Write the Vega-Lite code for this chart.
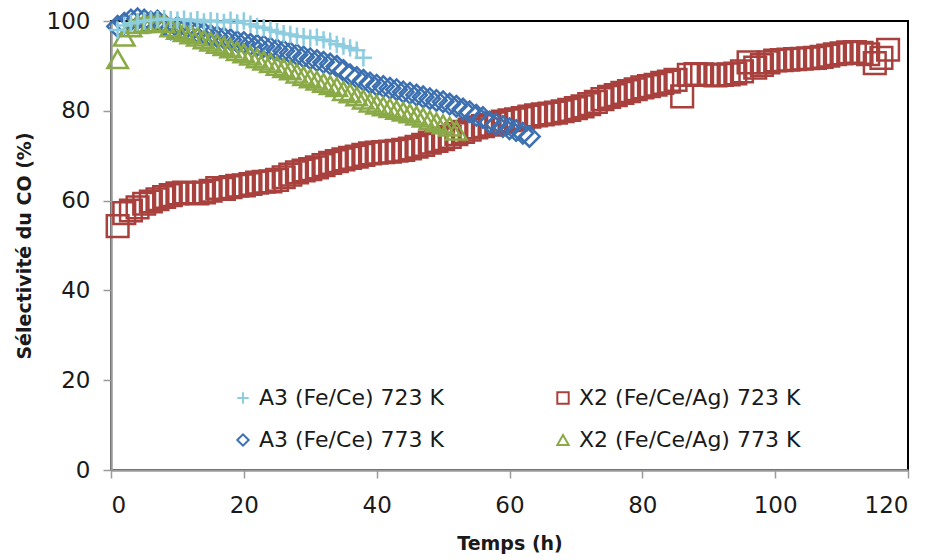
{
  "$schema": "https://vega.github.io/schema/vega-lite/v6.json",
  "width": 797,
  "height": 449,
  "autosize": "none",
  "padding": {"left": 111, "top": 21, "right": 22, "bottom": 90},
  "background": "white",
  "config": {
    "font": "DejaVu Sans",
    "view": {"stroke": "#000000", "strokeWidth": 2},
    "axis": {
      "labelFont": "DejaVu Sans",
      "labelFontSize": 23,
      "labelColor": "#1a1a1a",
      "titleFont": "DejaVu Sans",
      "titleFontSize": 19,
      "titleFontWeight": "bold",
      "titleColor": "#1a1a1a",
      "domainColor": "#9a9a9a",
      "domainWidth": 2.5,
      "tickColor": "#9a9a9a",
      "tickWidth": 1.5,
      "tickSize": 8,
      "grid": false
    },
    "legend": {
      "labelFont": "DejaVu Sans",
      "labelFontSize": 22,
      "labelColor": "#1a1a1a",
      "labelLimit": 0,
      "symbolSize": 130,
      "symbolStrokeWidth": 2,
      "labelOffset": 5,
      "rowPadding": 20,
      "columnPadding": 108,
      "padding": 0
    }
  },
  "data": {
    "values": [
      {"s": "X2 (Fe/Ce/Ag) 723 K", "t": 1, "v": 54.3},
      {"s": "X2 (Fe/Ce/Ag) 723 K", "t": 2, "v": 57.2},
      {"s": "X2 (Fe/Ce/Ag) 723 K", "t": 3, "v": 57.8},
      {"s": "X2 (Fe/Ce/Ag) 723 K", "t": 4, "v": 58.5},
      {"s": "X2 (Fe/Ce/Ag) 723 K", "t": 5, "v": 59.3},
      {"s": "X2 (Fe/Ce/Ag) 723 K", "t": 6, "v": 59.8},
      {"s": "X2 (Fe/Ce/Ag) 723 K", "t": 7, "v": 60.3},
      {"s": "X2 (Fe/Ce/Ag) 723 K", "t": 8, "v": 60.8},
      {"s": "X2 (Fe/Ce/Ag) 723 K", "t": 9, "v": 61.2},
      {"s": "X2 (Fe/Ce/Ag) 723 K", "t": 10, "v": 61.6},
      {"s": "X2 (Fe/Ce/Ag) 723 K", "t": 11, "v": 61.8},
      {"s": "X2 (Fe/Ce/Ag) 723 K", "t": 12, "v": 61.7},
      {"s": "X2 (Fe/Ce/Ag) 723 K", "t": 13, "v": 61.6},
      {"s": "X2 (Fe/Ce/Ag) 723 K", "t": 14, "v": 61.8},
      {"s": "X2 (Fe/Ce/Ag) 723 K", "t": 15, "v": 62.2},
      {"s": "X2 (Fe/Ce/Ag) 723 K", "t": 16, "v": 62.8},
      {"s": "X2 (Fe/Ce/Ag) 723 K", "t": 17, "v": 62.6},
      {"s": "X2 (Fe/Ce/Ag) 723 K", "t": 18, "v": 63.0},
      {"s": "X2 (Fe/Ce/Ag) 723 K", "t": 19, "v": 63.3},
      {"s": "X2 (Fe/Ce/Ag) 723 K", "t": 20, "v": 63.4},
      {"s": "X2 (Fe/Ce/Ag) 723 K", "t": 21, "v": 63.7},
      {"s": "X2 (Fe/Ce/Ag) 723 K", "t": 22, "v": 64.0},
      {"s": "X2 (Fe/Ce/Ag) 723 K", "t": 23, "v": 64.2},
      {"s": "X2 (Fe/Ce/Ag) 723 K", "t": 24, "v": 64.3},
      {"s": "X2 (Fe/Ce/Ag) 723 K", "t": 25, "v": 64.6},
      {"s": "X2 (Fe/Ce/Ag) 723 K", "t": 26, "v": 65.2},
      {"s": "X2 (Fe/Ce/Ag) 723 K", "t": 27, "v": 65.8},
      {"s": "X2 (Fe/Ce/Ag) 723 K", "t": 28, "v": 66.3},
      {"s": "X2 (Fe/Ce/Ag) 723 K", "t": 29, "v": 66.7},
      {"s": "X2 (Fe/Ce/Ag) 723 K", "t": 30, "v": 67.0},
      {"s": "X2 (Fe/Ce/Ag) 723 K", "t": 31, "v": 67.4},
      {"s": "X2 (Fe/Ce/Ag) 723 K", "t": 32, "v": 67.9},
      {"s": "X2 (Fe/Ce/Ag) 723 K", "t": 33, "v": 68.4},
      {"s": "X2 (Fe/Ce/Ag) 723 K", "t": 34, "v": 68.8},
      {"s": "X2 (Fe/Ce/Ag) 723 K", "t": 35, "v": 69.2},
      {"s": "X2 (Fe/Ce/Ag) 723 K", "t": 36, "v": 69.5},
      {"s": "X2 (Fe/Ce/Ag) 723 K", "t": 37, "v": 69.8},
      {"s": "X2 (Fe/Ce/Ag) 723 K", "t": 38, "v": 70.2},
      {"s": "X2 (Fe/Ce/Ag) 723 K", "t": 39, "v": 70.5},
      {"s": "X2 (Fe/Ce/Ag) 723 K", "t": 40, "v": 70.7},
      {"s": "X2 (Fe/Ce/Ag) 723 K", "t": 41, "v": 70.8},
      {"s": "X2 (Fe/Ce/Ag) 723 K", "t": 42, "v": 70.9},
      {"s": "X2 (Fe/Ce/Ag) 723 K", "t": 43, "v": 71.1},
      {"s": "X2 (Fe/Ce/Ag) 723 K", "t": 44, "v": 71.3},
      {"s": "X2 (Fe/Ce/Ag) 723 K", "t": 45, "v": 71.6},
      {"s": "X2 (Fe/Ce/Ag) 723 K", "t": 46, "v": 72.0},
      {"s": "X2 (Fe/Ce/Ag) 723 K", "t": 47, "v": 72.4},
      {"s": "X2 (Fe/Ce/Ag) 723 K", "t": 48, "v": 72.9},
      {"s": "X2 (Fe/Ce/Ag) 723 K", "t": 49, "v": 73.3},
      {"s": "X2 (Fe/Ce/Ag) 723 K", "t": 50, "v": 73.7},
      {"s": "X2 (Fe/Ce/Ag) 723 K", "t": 51, "v": 74.2},
      {"s": "X2 (Fe/Ce/Ag) 723 K", "t": 52, "v": 74.8},
      {"s": "X2 (Fe/Ce/Ag) 723 K", "t": 53, "v": 75.3},
      {"s": "X2 (Fe/Ce/Ag) 723 K", "t": 54, "v": 75.8},
      {"s": "X2 (Fe/Ce/Ag) 723 K", "t": 55, "v": 76.3},
      {"s": "X2 (Fe/Ce/Ag) 723 K", "t": 56, "v": 76.6},
      {"s": "X2 (Fe/Ce/Ag) 723 K", "t": 57, "v": 76.9},
      {"s": "X2 (Fe/Ce/Ag) 723 K", "t": 58, "v": 77.2},
      {"s": "X2 (Fe/Ce/Ag) 723 K", "t": 59, "v": 77.6},
      {"s": "X2 (Fe/Ce/Ag) 723 K", "t": 60, "v": 77.9},
      {"s": "X2 (Fe/Ce/Ag) 723 K", "t": 61, "v": 78.1},
      {"s": "X2 (Fe/Ce/Ag) 723 K", "t": 62, "v": 78.4},
      {"s": "X2 (Fe/Ce/Ag) 723 K", "t": 63, "v": 78.7},
      {"s": "X2 (Fe/Ce/Ag) 723 K", "t": 64, "v": 79.0},
      {"s": "X2 (Fe/Ce/Ag) 723 K", "t": 65, "v": 79.2},
      {"s": "X2 (Fe/Ce/Ag) 723 K", "t": 66, "v": 79.4},
      {"s": "X2 (Fe/Ce/Ag) 723 K", "t": 67, "v": 79.6},
      {"s": "X2 (Fe/Ce/Ag) 723 K", "t": 68, "v": 79.9},
      {"s": "X2 (Fe/Ce/Ag) 723 K", "t": 69, "v": 80.2},
      {"s": "X2 (Fe/Ce/Ag) 723 K", "t": 70, "v": 80.6},
      {"s": "X2 (Fe/Ce/Ag) 723 K", "t": 71, "v": 81.0},
      {"s": "X2 (Fe/Ce/Ag) 723 K", "t": 72, "v": 81.5},
      {"s": "X2 (Fe/Ce/Ag) 723 K", "t": 73, "v": 82.0},
      {"s": "X2 (Fe/Ce/Ag) 723 K", "t": 74, "v": 82.6},
      {"s": "X2 (Fe/Ce/Ag) 723 K", "t": 75, "v": 83.1},
      {"s": "X2 (Fe/Ce/Ag) 723 K", "t": 76, "v": 83.5},
      {"s": "X2 (Fe/Ce/Ag) 723 K", "t": 77, "v": 84.0},
      {"s": "X2 (Fe/Ce/Ag) 723 K", "t": 78, "v": 84.4},
      {"s": "X2 (Fe/Ce/Ag) 723 K", "t": 79, "v": 84.8},
      {"s": "X2 (Fe/Ce/Ag) 723 K", "t": 80, "v": 85.2},
      {"s": "X2 (Fe/Ce/Ag) 723 K", "t": 81, "v": 85.5},
      {"s": "X2 (Fe/Ce/Ag) 723 K", "t": 82, "v": 85.8},
      {"s": "X2 (Fe/Ce/Ag) 723 K", "t": 83, "v": 86.2},
      {"s": "X2 (Fe/Ce/Ag) 723 K", "t": 84, "v": 86.5},
      {"s": "X2 (Fe/Ce/Ag) 723 K", "t": 85, "v": 86.9},
      {"s": "X2 (Fe/Ce/Ag) 723 K", "t": 86, "v": 83.2},
      {"s": "X2 (Fe/Ce/Ag) 723 K", "t": 87, "v": 88.0},
      {"s": "X2 (Fe/Ce/Ag) 723 K", "t": 88, "v": 88.2},
      {"s": "X2 (Fe/Ce/Ag) 723 K", "t": 89, "v": 88.1},
      {"s": "X2 (Fe/Ce/Ag) 723 K", "t": 90, "v": 88.0},
      {"s": "X2 (Fe/Ce/Ag) 723 K", "t": 91, "v": 87.9},
      {"s": "X2 (Fe/Ce/Ag) 723 K", "t": 92, "v": 88.0},
      {"s": "X2 (Fe/Ce/Ag) 723 K", "t": 93, "v": 88.1},
      {"s": "X2 (Fe/Ce/Ag) 723 K", "t": 94, "v": 88.3},
      {"s": "X2 (Fe/Ce/Ag) 723 K", "t": 95, "v": 88.8},
      {"s": "X2 (Fe/Ce/Ag) 723 K", "t": 96, "v": 90.8},
      {"s": "X2 (Fe/Ce/Ag) 723 K", "t": 97, "v": 89.6},
      {"s": "X2 (Fe/Ce/Ag) 723 K", "t": 98, "v": 90.2},
      {"s": "X2 (Fe/Ce/Ag) 723 K", "t": 99, "v": 90.8},
      {"s": "X2 (Fe/Ce/Ag) 723 K", "t": 100, "v": 91.2},
      {"s": "X2 (Fe/Ce/Ag) 723 K", "t": 101, "v": 91.3},
      {"s": "X2 (Fe/Ce/Ag) 723 K", "t": 102, "v": 91.4},
      {"s": "X2 (Fe/Ce/Ag) 723 K", "t": 103, "v": 91.5},
      {"s": "X2 (Fe/Ce/Ag) 723 K", "t": 104, "v": 91.6},
      {"s": "X2 (Fe/Ce/Ag) 723 K", "t": 105, "v": 91.7},
      {"s": "X2 (Fe/Ce/Ag) 723 K", "t": 106, "v": 91.8},
      {"s": "X2 (Fe/Ce/Ag) 723 K", "t": 107, "v": 92.0},
      {"s": "X2 (Fe/Ce/Ag) 723 K", "t": 108, "v": 92.3},
      {"s": "X2 (Fe/Ce/Ag) 723 K", "t": 109, "v": 92.6},
      {"s": "X2 (Fe/Ce/Ag) 723 K", "t": 110, "v": 92.8},
      {"s": "X2 (Fe/Ce/Ag) 723 K", "t": 111, "v": 93.0},
      {"s": "X2 (Fe/Ce/Ag) 723 K", "t": 112, "v": 93.1},
      {"s": "X2 (Fe/Ce/Ag) 723 K", "t": 113, "v": 92.9},
      {"s": "X2 (Fe/Ce/Ag) 723 K", "t": 114, "v": 92.6},
      {"s": "X2 (Fe/Ce/Ag) 723 K", "t": 115, "v": 90.6},
      {"s": "X2 (Fe/Ce/Ag) 723 K", "t": 116, "v": 91.8},
      {"s": "X2 (Fe/Ce/Ag) 723 K", "t": 117, "v": 93.6},
      {"s": "A3 (Fe/Ce) 773 K", "t": 1, "v": 98.8},
      {"s": "A3 (Fe/Ce) 773 K", "t": 2, "v": 99.5},
      {"s": "A3 (Fe/Ce) 773 K", "t": 3, "v": 100.2},
      {"s": "A3 (Fe/Ce) 773 K", "t": 4, "v": 100.5},
      {"s": "A3 (Fe/Ce) 773 K", "t": 5, "v": 100.2},
      {"s": "A3 (Fe/Ce) 773 K", "t": 6, "v": 99.8},
      {"s": "A3 (Fe/Ce) 773 K", "t": 7, "v": 100.0},
      {"s": "A3 (Fe/Ce) 773 K", "t": 8, "v": 99.2},
      {"s": "A3 (Fe/Ce) 773 K", "t": 9, "v": 98.2},
      {"s": "A3 (Fe/Ce) 773 K", "t": 10, "v": 98.6},
      {"s": "A3 (Fe/Ce) 773 K", "t": 11, "v": 98.0},
      {"s": "A3 (Fe/Ce) 773 K", "t": 12, "v": 97.8},
      {"s": "A3 (Fe/Ce) 773 K", "t": 13, "v": 97.5},
      {"s": "A3 (Fe/Ce) 773 K", "t": 14, "v": 97.3},
      {"s": "A3 (Fe/Ce) 773 K", "t": 15, "v": 96.8},
      {"s": "A3 (Fe/Ce) 773 K", "t": 16, "v": 96.5},
      {"s": "A3 (Fe/Ce) 773 K", "t": 17, "v": 96.2},
      {"s": "A3 (Fe/Ce) 773 K", "t": 18, "v": 95.8},
      {"s": "A3 (Fe/Ce) 773 K", "t": 19, "v": 95.4},
      {"s": "A3 (Fe/Ce) 773 K", "t": 20, "v": 95.2},
      {"s": "A3 (Fe/Ce) 773 K", "t": 21, "v": 94.8},
      {"s": "A3 (Fe/Ce) 773 K", "t": 22, "v": 94.6},
      {"s": "A3 (Fe/Ce) 773 K", "t": 23, "v": 94.4},
      {"s": "A3 (Fe/Ce) 773 K", "t": 24, "v": 94.0},
      {"s": "A3 (Fe/Ce) 773 K", "t": 25, "v": 93.6},
      {"s": "A3 (Fe/Ce) 773 K", "t": 26, "v": 93.3},
      {"s": "A3 (Fe/Ce) 773 K", "t": 27, "v": 92.9},
      {"s": "A3 (Fe/Ce) 773 K", "t": 28, "v": 92.5},
      {"s": "A3 (Fe/Ce) 773 K", "t": 29, "v": 92.0},
      {"s": "A3 (Fe/Ce) 773 K", "t": 30, "v": 91.6},
      {"s": "A3 (Fe/Ce) 773 K", "t": 31, "v": 91.2},
      {"s": "A3 (Fe/Ce) 773 K", "t": 32, "v": 90.8},
      {"s": "A3 (Fe/Ce) 773 K", "t": 33, "v": 90.4},
      {"s": "A3 (Fe/Ce) 773 K", "t": 34, "v": 89.9},
      {"s": "A3 (Fe/Ce) 773 K", "t": 35, "v": 89.0},
      {"s": "A3 (Fe/Ce) 773 K", "t": 36, "v": 88.0},
      {"s": "A3 (Fe/Ce) 773 K", "t": 37, "v": 87.4},
      {"s": "A3 (Fe/Ce) 773 K", "t": 38, "v": 86.8},
      {"s": "A3 (Fe/Ce) 773 K", "t": 39, "v": 86.2},
      {"s": "A3 (Fe/Ce) 773 K", "t": 40, "v": 85.7},
      {"s": "A3 (Fe/Ce) 773 K", "t": 41, "v": 85.4},
      {"s": "A3 (Fe/Ce) 773 K", "t": 42, "v": 85.0},
      {"s": "A3 (Fe/Ce) 773 K", "t": 43, "v": 84.7},
      {"s": "A3 (Fe/Ce) 773 K", "t": 44, "v": 84.2},
      {"s": "A3 (Fe/Ce) 773 K", "t": 45, "v": 83.9},
      {"s": "A3 (Fe/Ce) 773 K", "t": 46, "v": 83.5},
      {"s": "A3 (Fe/Ce) 773 K", "t": 47, "v": 83.1},
      {"s": "A3 (Fe/Ce) 773 K", "t": 48, "v": 82.7},
      {"s": "A3 (Fe/Ce) 773 K", "t": 49, "v": 82.3},
      {"s": "A3 (Fe/Ce) 773 K", "t": 50, "v": 82.0},
      {"s": "A3 (Fe/Ce) 773 K", "t": 51, "v": 81.5},
      {"s": "A3 (Fe/Ce) 773 K", "t": 52, "v": 81.0},
      {"s": "A3 (Fe/Ce) 773 K", "t": 53, "v": 80.4},
      {"s": "A3 (Fe/Ce) 773 K", "t": 54, "v": 79.8},
      {"s": "A3 (Fe/Ce) 773 K", "t": 55, "v": 79.0},
      {"s": "A3 (Fe/Ce) 773 K", "t": 56, "v": 78.5},
      {"s": "A3 (Fe/Ce) 773 K", "t": 57, "v": 77.5},
      {"s": "A3 (Fe/Ce) 773 K", "t": 58, "v": 77.0},
      {"s": "A3 (Fe/Ce) 773 K", "t": 59, "v": 76.5},
      {"s": "A3 (Fe/Ce) 773 K", "t": 60, "v": 76.0},
      {"s": "A3 (Fe/Ce) 773 K", "t": 61, "v": 75.6},
      {"s": "A3 (Fe/Ce) 773 K", "t": 62, "v": 75.0},
      {"s": "A3 (Fe/Ce) 773 K", "t": 63, "v": 74.3},
      {"s": "X2 (Fe/Ce/Ag) 773 K", "t": 1, "v": 91.5},
      {"s": "X2 (Fe/Ce/Ag) 773 K", "t": 2, "v": 96.5},
      {"s": "X2 (Fe/Ce/Ag) 773 K", "t": 3, "v": 98.6},
      {"s": "X2 (Fe/Ce/Ag) 773 K", "t": 4, "v": 99.3},
      {"s": "X2 (Fe/Ce/Ag) 773 K", "t": 5, "v": 99.5},
      {"s": "X2 (Fe/Ce/Ag) 773 K", "t": 6, "v": 99.6},
      {"s": "X2 (Fe/Ce/Ag) 773 K", "t": 7, "v": 99.7},
      {"s": "X2 (Fe/Ce/Ag) 773 K", "t": 8, "v": 99.5},
      {"s": "X2 (Fe/Ce/Ag) 773 K", "t": 9, "v": 98.6},
      {"s": "X2 (Fe/Ce/Ag) 773 K", "t": 10, "v": 98.0},
      {"s": "X2 (Fe/Ce/Ag) 773 K", "t": 11, "v": 97.5},
      {"s": "X2 (Fe/Ce/Ag) 773 K", "t": 12, "v": 97.0},
      {"s": "X2 (Fe/Ce/Ag) 773 K", "t": 13, "v": 96.5},
      {"s": "X2 (Fe/Ce/Ag) 773 K", "t": 14, "v": 95.9},
      {"s": "X2 (Fe/Ce/Ag) 773 K", "t": 15, "v": 95.4},
      {"s": "X2 (Fe/Ce/Ag) 773 K", "t": 16, "v": 94.9},
      {"s": "X2 (Fe/Ce/Ag) 773 K", "t": 17, "v": 94.4},
      {"s": "X2 (Fe/Ce/Ag) 773 K", "t": 18, "v": 93.9},
      {"s": "X2 (Fe/Ce/Ag) 773 K", "t": 19, "v": 93.3},
      {"s": "X2 (Fe/Ce/Ag) 773 K", "t": 20, "v": 92.8},
      {"s": "X2 (Fe/Ce/Ag) 773 K", "t": 21, "v": 92.3},
      {"s": "X2 (Fe/Ce/Ag) 773 K", "t": 22, "v": 91.7},
      {"s": "X2 (Fe/Ce/Ag) 773 K", "t": 23, "v": 91.2},
      {"s": "X2 (Fe/Ce/Ag) 773 K", "t": 24, "v": 90.6},
      {"s": "X2 (Fe/Ce/Ag) 773 K", "t": 25, "v": 90.0},
      {"s": "X2 (Fe/Ce/Ag) 773 K", "t": 26, "v": 89.5},
      {"s": "X2 (Fe/Ce/Ag) 773 K", "t": 27, "v": 89.0},
      {"s": "X2 (Fe/Ce/Ag) 773 K", "t": 28, "v": 88.3},
      {"s": "X2 (Fe/Ce/Ag) 773 K", "t": 29, "v": 87.7},
      {"s": "X2 (Fe/Ce/Ag) 773 K", "t": 30, "v": 87.2},
      {"s": "X2 (Fe/Ce/Ag) 773 K", "t": 31, "v": 86.7},
      {"s": "X2 (Fe/Ce/Ag) 773 K", "t": 32, "v": 86.2},
      {"s": "X2 (Fe/Ce/Ag) 773 K", "t": 33, "v": 85.7},
      {"s": "X2 (Fe/Ce/Ag) 773 K", "t": 34, "v": 85.3},
      {"s": "X2 (Fe/Ce/Ag) 773 K", "t": 35, "v": 84.4},
      {"s": "X2 (Fe/Ce/Ag) 773 K", "t": 36, "v": 83.9},
      {"s": "X2 (Fe/Ce/Ag) 773 K", "t": 37, "v": 83.2},
      {"s": "X2 (Fe/Ce/Ag) 773 K", "t": 38, "v": 82.5},
      {"s": "X2 (Fe/Ce/Ag) 773 K", "t": 39, "v": 81.8},
      {"s": "X2 (Fe/Ce/Ag) 773 K", "t": 40, "v": 81.4},
      {"s": "X2 (Fe/Ce/Ag) 773 K", "t": 41, "v": 81.0},
      {"s": "X2 (Fe/Ce/Ag) 773 K", "t": 42, "v": 80.6},
      {"s": "X2 (Fe/Ce/Ag) 773 K", "t": 43, "v": 80.2},
      {"s": "X2 (Fe/Ce/Ag) 773 K", "t": 44, "v": 79.8},
      {"s": "X2 (Fe/Ce/Ag) 773 K", "t": 45, "v": 79.4},
      {"s": "X2 (Fe/Ce/Ag) 773 K", "t": 46, "v": 78.9},
      {"s": "X2 (Fe/Ce/Ag) 773 K", "t": 47, "v": 78.5},
      {"s": "X2 (Fe/Ce/Ag) 773 K", "t": 48, "v": 77.9},
      {"s": "X2 (Fe/Ce/Ag) 773 K", "t": 49, "v": 77.4},
      {"s": "X2 (Fe/Ce/Ag) 773 K", "t": 50, "v": 77.0},
      {"s": "X2 (Fe/Ce/Ag) 773 K", "t": 51, "v": 76.5},
      {"s": "X2 (Fe/Ce/Ag) 773 K", "t": 52, "v": 75.6},
      {"s": "A3 (Fe/Ce) 723 K", "t": 1, "v": 98.0},
      {"s": "A3 (Fe/Ce) 723 K", "t": 2, "v": 99.0},
      {"s": "A3 (Fe/Ce) 723 K", "t": 3, "v": 99.5},
      {"s": "A3 (Fe/Ce) 723 K", "t": 4, "v": 99.8},
      {"s": "A3 (Fe/Ce) 723 K", "t": 5, "v": 100.0},
      {"s": "A3 (Fe/Ce) 723 K", "t": 6, "v": 100.2},
      {"s": "A3 (Fe/Ce) 723 K", "t": 7, "v": 100.3},
      {"s": "A3 (Fe/Ce) 723 K", "t": 8, "v": 100.5},
      {"s": "A3 (Fe/Ce) 723 K", "t": 9, "v": 100.3},
      {"s": "A3 (Fe/Ce) 723 K", "t": 10, "v": 100.2},
      {"s": "A3 (Fe/Ce) 723 K", "t": 11, "v": 100.4},
      {"s": "A3 (Fe/Ce) 723 K", "t": 12, "v": 100.0},
      {"s": "A3 (Fe/Ce) 723 K", "t": 13, "v": 100.3},
      {"s": "A3 (Fe/Ce) 723 K", "t": 14, "v": 99.8},
      {"s": "A3 (Fe/Ce) 723 K", "t": 15, "v": 100.1},
      {"s": "A3 (Fe/Ce) 723 K", "t": 16, "v": 99.9},
      {"s": "A3 (Fe/Ce) 723 K", "t": 17, "v": 99.7},
      {"s": "A3 (Fe/Ce) 723 K", "t": 18, "v": 100.2},
      {"s": "A3 (Fe/Ce) 723 K", "t": 19, "v": 99.6},
      {"s": "A3 (Fe/Ce) 723 K", "t": 20, "v": 100.0},
      {"s": "A3 (Fe/Ce) 723 K", "t": 21, "v": 99.3},
      {"s": "A3 (Fe/Ce) 723 K", "t": 22, "v": 98.8},
      {"s": "A3 (Fe/Ce) 723 K", "t": 23, "v": 98.5},
      {"s": "A3 (Fe/Ce) 723 K", "t": 24, "v": 98.0},
      {"s": "A3 (Fe/Ce) 723 K", "t": 25, "v": 97.6},
      {"s": "A3 (Fe/Ce) 723 K", "t": 26, "v": 97.2},
      {"s": "A3 (Fe/Ce) 723 K", "t": 27, "v": 97.0},
      {"s": "A3 (Fe/Ce) 723 K", "t": 28, "v": 96.6},
      {"s": "A3 (Fe/Ce) 723 K", "t": 29, "v": 96.5},
      {"s": "A3 (Fe/Ce) 723 K", "t": 30, "v": 96.2},
      {"s": "A3 (Fe/Ce) 723 K", "t": 31, "v": 96.4},
      {"s": "A3 (Fe/Ce) 723 K", "t": 32, "v": 95.8},
      {"s": "A3 (Fe/Ce) 723 K", "t": 33, "v": 95.5},
      {"s": "A3 (Fe/Ce) 723 K", "t": 34, "v": 94.8},
      {"s": "A3 (Fe/Ce) 723 K", "t": 35, "v": 94.4},
      {"s": "A3 (Fe/Ce) 723 K", "t": 36, "v": 94.0},
      {"s": "A3 (Fe/Ce) 723 K", "t": 37, "v": 93.5},
      {"s": "A3 (Fe/Ce) 723 K", "t": 38, "v": 91.8}
    ]
  },
  "encoding": {
    "x": {
      "field": "t", "type": "quantitative", "title": "Temps (h)",
      "scale": {"domain": [0, 120], "nice": false},
      "axis": {"values": [0, 20, 40, 60, 80, 100, 120], "labelPadding": 16, "titlePadding": 17}
    },
    "y": {
      "field": "v", "type": "quantitative", "title": "Sélectivité du CO (%)",
      "scale": {"domain": [0, 100], "nice": false},
      "axis": {"values": [0, 20, 40, 60, 80, 100], "labelPadding": 13, "titlePadding": 12}
    },
    "color": {
      "field": "s", "type": "nominal", "sort": null,
      "scale": {
        "domain": ["A3 (Fe/Ce) 723 K", "X2 (Fe/Ce/Ag) 723 K", "A3 (Fe/Ce) 773 K", "X2 (Fe/Ce/Ag) 773 K"],
        "range": ["#8ECDE0", "#A8403D", "#3C70B0", "#8AAA47"]
      },
      "legend": {
        "title": null, "orient": "none", "legendX": 121, "legendY": 366, "columns": 2, "direction": "horizontal"
      }
    },
    "shape": {
      "field": "s", "type": "nominal", "sort": null,
      "scale": {
        "domain": ["A3 (Fe/Ce) 723 K", "X2 (Fe/Ce/Ag) 723 K", "A3 (Fe/Ce) 773 K", "X2 (Fe/Ce/Ag) 773 K"],
        "range": ["M-1,0H1M0,-1V1", "square", "diamond", "triangle-up"]
      },
      "legend": {
        "title": null, "orient": "none", "legendX": 121, "legendY": 366, "columns": 2, "direction": "horizontal"
      }
    }
  },
  "layer": [
    {
      "transform": [{"filter": "datum.s === 'X2 (Fe/Ce/Ag) 723 K'"}],
      "mark": {"type": "point", "filled": false, "strokeWidth": 2.5, "opacity": 1, "size": 470}
    },
    {
      "transform": [{"filter": "datum.s === 'A3 (Fe/Ce) 773 K'"}],
      "mark": {"type": "point", "filled": false, "strokeWidth": 2.5, "opacity": 1, "size": 420}
    },
    {
      "transform": [{"filter": "datum.s === 'X2 (Fe/Ce/Ag) 773 K'"}],
      "mark": {"type": "point", "filled": false, "strokeWidth": 2.5, "opacity": 1, "size": 420}
    },
    {
      "transform": [{"filter": "datum.s === 'A3 (Fe/Ce) 723 K'"}],
      "mark": {"type": "point", "filled": false, "strokeWidth": 2.5, "opacity": 1, "size": 300}
    }
  ]
}
